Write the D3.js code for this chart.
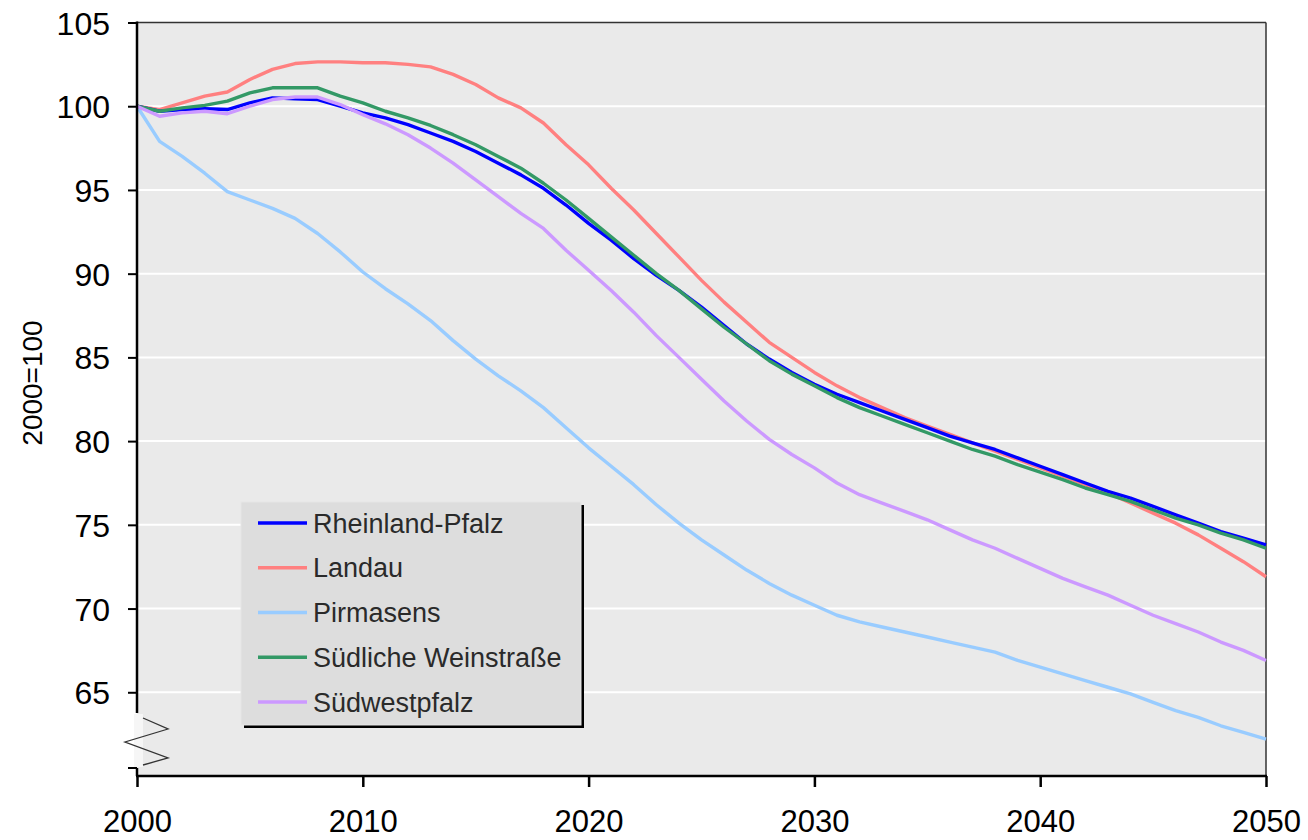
<!DOCTYPE html>
<html>
<head>
<meta charset="utf-8">
<script src="https://cdn.jsdelivr.net/npm/d3@7"></script>
<style>
body{margin:0;background:#fff;}
svg{display:block;font-family:"Liberation Sans",Arial,sans-serif;}
</style>
</head>
<body>
<svg id="chart" width="1308" height="840"></svg>
<script>
const years = d3.range(2000, 2051);
const seriesNames = ["Rheinland-Pfalz","Landau","Pirmasens","Südliche Weinstraße","Südwestpfalz"];
const seriesColors = ["#0000ff","#ff8080","#99ccff","#339966","#cc99ff"];
const yTicks = [65,70,75,80,85,90,95,100,105];
const xTicks = [2000,2010,2020,2030,2040,2050];
const yTitle = "2000=100";

const rheinlandPfalz = [100,99.7,99.8,99.85,99.8,100.2,100.5,100.45,100.4,100.0,
  99.6,99.3,98.9,98.4,97.9,97.3,96.6,95.9,95.1,94.1,
  93.0,92.0,90.9,89.9,89.0,88.0,86.9,85.8,84.9,84.1,
  83.4,82.8,82.3,81.8,81.3,80.8,80.3,79.9,79.5,79.0,
  78.5,78.0,77.5,77.0,76.6,76.1,75.6,75.1,74.6,74.2,73.8];
const landau = [100,99.8,100.2,100.6,100.85,101.6,102.2,102.55,102.65,102.65,
  102.6,102.6,102.5,102.35,101.9,101.3,100.5,99.9,99.0,97.7,
  96.5,95.1,93.8,92.4,91.0,89.6,88.3,87.1,85.9,85.0,
  84.1,83.3,82.6,82.0,81.4,80.9,80.4,79.9,79.4,78.9,
  78.4,77.9,77.4,76.9,76.3,75.7,75.1,74.4,73.6,72.8,71.9];
const pirmasens = [100,97.9,97.0,96.0,94.9,94.4,93.9,93.3,92.4,91.3,
  90.1,89.1,88.2,87.2,86.0,84.9,83.9,83.0,82.0,80.8,
  79.6,78.5,77.4,76.2,75.1,74.1,73.2,72.3,71.5,70.8,
  70.2,69.6,69.2,68.9,68.6,68.3,68.0,67.7,67.4,66.9,
  66.5,66.1,65.7,65.3,64.9,64.4,63.9,63.5,63.0,62.6,62.2];
const suedlicheWeinstrasse = [100,99.7,99.9,100.05,100.3,100.8,101.1,101.1,101.1,100.6,
  100.2,99.7,99.3,98.85,98.3,97.7,97.0,96.3,95.4,94.4,
  93.3,92.2,91.1,90.0,89.0,87.9,86.8,85.8,84.8,84.0,
  83.3,82.6,82.0,81.5,81.0,80.5,80.0,79.5,79.1,78.6,
  78.15,77.7,77.2,76.8,76.4,75.9,75.4,75.0,74.5,74.1,73.6];
const suedwestpfalz = [100,99.4,99.6,99.7,99.55,100.0,100.4,100.55,100.55,100.1,
  99.5,98.95,98.3,97.5,96.6,95.6,94.6,93.6,92.7,91.4,
  90.2,89.0,87.7,86.3,85.0,83.7,82.4,81.2,80.1,79.2,
  78.4,77.5,76.8,76.3,75.8,75.3,74.7,74.1,73.6,73.0,
  72.4,71.8,71.3,70.8,70.2,69.6,69.1,68.6,68.0,67.5,66.9];

const seriesValues = [rheinlandPfalz, landau, pirmasens, suedlicheWeinstrasse, suedwestpfalz];
const drawOrder = [1,0,2,3,4];

const svg = d3.select("#chart");
const L = 137, R = 1266, T = 22.5, B = 776;
const x = d3.scaleLinear().domain([2000,2050]).range([L,R]);
const y = d3.scaleLinear().domain([60,105]).range([B,T]);

// plot background
svg.append("rect").attr("x",L).attr("y",T).attr("width",R-L).attr("height",B-T).attr("fill","#eaeaea");

// gridlines
svg.append("g").selectAll("line").data(yTicks.filter(v=>v<105)).join("line")
  .attr("x1",L).attr("x2",R).attr("y1",d=>y(d)).attr("y2",d=>y(d))
  .attr("stroke","#ffffff").attr("stroke-width",2);

// top and right border
svg.append("line").attr("x1",L).attr("x2",R).attr("y1",T).attr("y2",T).attr("stroke","#333").attr("stroke-width",1.5);
svg.append("line").attr("x1",R).attr("x2",R).attr("y1",T).attr("y2",B).attr("stroke","#333").attr("stroke-width",1.5);

// lines
const line = d3.line().x((d,i)=>x(years[i])).y(d=>y(d)).curve(d3.curveLinear);
const lg = svg.append("g");
drawOrder.forEach(k=>{
  lg.append("path").datum(seriesValues[k]).attr("d",line)
    .attr("fill","none").attr("stroke",seriesColors[k]).attr("stroke-width",3.4)
    .attr("stroke-linejoin","round");
});

// y axis
const yAxis = d3.axisLeft(y).tickValues(yTicks).tickSize(9).tickPadding(18).tickFormat(d3.format("d"));
const ya = svg.append("g").attr("transform",`translate(${L},0)`).call(yAxis);
ya.select(".domain").remove();
ya.selectAll(".tick line").attr("stroke","#000").attr("stroke-width",2);
ya.selectAll(".tick text").attr("font-size",32).attr("fill","#000").attr("font-family","Liberation Sans, Arial, sans-serif").attr("dy","0.36em");
// axis line with break
svg.append("line").attr("x1",L).attr("x2",L).attr("y1",T-1).attr("y2",713).attr("stroke","#000").attr("stroke-width",2.5);
svg.append("line").attr("x1",L).attr("x2",L).attr("y1",768).attr("y2",B).attr("stroke","#000").attr("stroke-width",2.5);
svg.append("line").attr("x1",L-9).attr("x2",L).attr("y1",768).attr("y2",768).attr("stroke","#000").attr("stroke-width",2);
svg.append("rect").attr("x",L-3).attr("y",714).attr("width",9).attr("height",53).attr("fill","#f6f6f6");
svg.append("polyline").attr("points","143,718 168,729 125,742 168,758 143,765")
  .attr("fill","none").attr("stroke","#333").attr("stroke-width",1.3);

// x axis
const xAxis = d3.axisBottom(x).tickValues(xTicks).tickSize(11).tickPadding(23).tickFormat(d3.format("d"));
const xa = svg.append("g").attr("transform",`translate(0,${B})`).call(xAxis);
xa.select(".domain").remove();
xa.selectAll(".tick line").attr("stroke","#000").attr("stroke-width",2.5);
xa.selectAll(".tick text").attr("font-size",31).attr("fill","#000").attr("font-family","Liberation Sans, Arial, sans-serif");
svg.append("line").attr("x1",L-1).attr("x2",R+1).attr("y1",B).attr("y2",B).attr("stroke","#000").attr("stroke-width",2.5);

// y title
svg.append("text").attr("transform","translate(42,383) rotate(-90)")
  .attr("text-anchor","middle").attr("font-size",28).attr("fill","#000").text(yTitle);

// legend
const lx = 241, ly = 502, lw = 340, lh = 223;
svg.append("rect").attr("x",lx+3).attr("y",ly+3).attr("width",lw).attr("height",lh).attr("fill","#000");
svg.append("rect").attr("x",lx).attr("y",ly).attr("width",lw).attr("height",lh).attr("fill","#dddddd").attr("stroke","#e6e6e6").attr("stroke-width",1);
const rowY = d3.scaleLinear().domain([0,4]).range([523,702]);
const leg = svg.append("g");
seriesNames.forEach((n,i)=>{
  leg.append("line").attr("x1",258).attr("x2",307).attr("y1",rowY(i)).attr("y2",rowY(i))
    .attr("stroke",seriesColors[i]).attr("stroke-width",3.5);
  leg.append("text").attr("x",313).attr("y",rowY(i)).attr("dy","0.36em")
    .attr("font-size",27).attr("fill","#2a2a2a").text(n);
});
</script>
</body>
</html>
